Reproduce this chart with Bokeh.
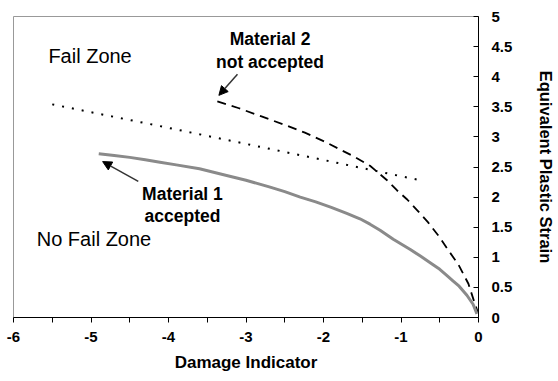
from bokeh.plotting import figure
from bokeh.models import (Range1d, FixedTicker, CustomJSTickFormatter, Arrow, NormalHead,
                          ColumnDataSource)
from bokeh.core.properties import value
from bokeh.embed import file_html
from bokeh.resources import INLINE

# ---- data ----
m1_x = [-4.90, -4.7, -4.5, -4.3, -4.11, -3.9, -3.6, -3.25, -3.0, -2.7, -2.5, -2.30, -2.1, -1.9,
        -1.7, -1.53, -1.4, -1.27, -1.1, -0.88, -0.75, -0.6, -0.5, -0.41, -0.33, -0.25, -0.15, -0.07, -0.02]
m1_y = [2.72, 2.69, 2.66, 2.62, 2.58, 2.535, 2.47, 2.36, 2.28, 2.17, 2.09, 2.00, 1.92, 1.83,
        1.73, 1.64, 1.55, 1.45, 1.30, 1.13, 1.02, 0.89, 0.80, 0.70, 0.61, 0.52, 0.37, 0.22, 0.06]

m2_x = [-3.37, -3.1, -2.8, -2.5, -2.24, -2.0, -1.8, -1.6, -1.40, -1.18, -1.05, -0.92, -0.79,
        -0.65, -0.5, -0.38, -0.26, -0.13, -0.06, -0.01]
m2_y = [3.59, 3.48, 3.34, 3.20, 3.07, 2.93, 2.80, 2.67, 2.52, 2.28, 2.11, 1.96, 1.78,
        1.58, 1.33, 1.10, 0.88, 0.56, 0.28, 0.09]

lim_x = [-5.5, -4.15, -2.2, -0.75]
lim_y = [3.54, 3.19, 2.67, 2.28]

x_ticks = [-6, -5, -4, -3, -2, -1, 0]
x_minor = [-5.5, -4.5, -3.5, -2.5, -1.5, -0.5]
y_ticks = [0, 0.5, 1, 1.5, 2, 2.5, 3, 3.5, 4, 4.5, 5]

zone_text = ["Fail Zone", "No Fail Zone"]
zone_x = [-5.55, -5.70]
zone_y = [4.35, 1.30]

mat_text = ["Material 2", "not accepted", "Material 1", "accepted"]
mat_x = [-2.69, -2.69, -3.82, -3.82]
mat_y = [4.63, 4.25, 2.05, 1.69]

arrow_x_start = [-3.11, -4.39]
arrow_y_start = [4.04, 2.26]
arrow_x_end = [-3.35, -4.85]
arrow_y_end = [3.69, 2.59]

FONT = "Liberation Sans"

p = figure(width=558, height=381, output_backend="svg", toolbar_location=None,
           x_range=Range1d(-6, 0), y_range=Range1d(0, 5),
           y_axis_location="right",
           min_border_left=13, min_border_top=16, min_border_right=8, min_border_bottom=8)

p.frame_width = 465
p.frame_height = 301
p.outline_line_color = "#999999"
p.outline_line_width = 1
p.xgrid.visible = False
p.ygrid.visible = False
p.background_fill_color = "white"
p.border_fill_color = "white"

fmt = CustomJSTickFormatter(code="return String(tick);")

xa = p.xaxis[0]
xa.ticker = FixedTicker(ticks=x_ticks, minor_ticks=x_minor)
xa.formatter = fmt
xa.axis_line_color = "black"
xa.major_tick_in = 0
xa.major_tick_out = 5
xa.minor_tick_in = 0
xa.minor_tick_out = 5
xa.minor_tick_line_color = "black"
xa.major_label_text_font = FONT
xa.major_label_text_font_style = "bold"
xa.major_label_text_font_size = "15px"
xa.major_label_text_color = "black"
xa.major_label_standoff = 9
xa.axis_label = "Damage Indicator"
xa.axis_label_text_font = FONT
xa.axis_label_text_font_style = "bold"
xa.axis_label_text_font_size = "17px"
xa.axis_label_text_color = "black"
xa.axis_label_standoff = 8

ya = p.yaxis[0]
ya.ticker = FixedTicker(ticks=y_ticks, minor_ticks=[])
ya.formatter = fmt
ya.axis_line_color = "black"
ya.major_tick_in = 5
ya.major_tick_out = 0
ya.major_label_text_font = FONT
ya.major_label_text_font_style = "bold"
ya.major_label_text_font_size = "15px"
ya.major_label_text_color = "black"
ya.major_label_standoff = 13
ya.axis_label = "Equivalent Plastic Strain"
ya.axis_label_text_font = FONT
ya.axis_label_text_font_style = "bold"
ya.axis_label_text_font_size = "16.5px"
ya.axis_label_text_color = "black"
ya.axis_label_standoff = 22

p.line(lim_x, lim_y, line_color="black", line_width=2, line_dash="2 8")
p.line(m2_x, m2_y, line_color="black", line_width=1.8, line_dash="9 6")
p.line(m1_x, m1_y, line_color="#8a8a8a", line_width=3)

zsrc = ColumnDataSource(dict(x=zone_x, y=zone_y, t=zone_text))
p.text(x="x", y="y", text="t", source=zsrc, text_font=value(FONT), text_font_size="20px",
       text_align="left", text_baseline="middle", text_color="black")

msrc = ColumnDataSource(dict(x=mat_x, y=mat_y, t=mat_text))
p.text(x="x", y="y", text="t", source=msrc, text_font=value(FONT), text_font_size="17.5px",
       text_font_style="bold", text_align="center", text_baseline="middle", text_color="black")

for xs, ys, xe, ye in zip(arrow_x_start, arrow_y_start, arrow_x_end, arrow_y_end):
    p.add_layout(Arrow(end=NormalHead(size=9, fill_color="black", line_color="black"),
                       x_start=xs, y_start=ys, x_end=xe, y_end=ye,
                       line_color="#333333", line_width=1.5))

open("out.html", "w").write(file_html(p, INLINE))
